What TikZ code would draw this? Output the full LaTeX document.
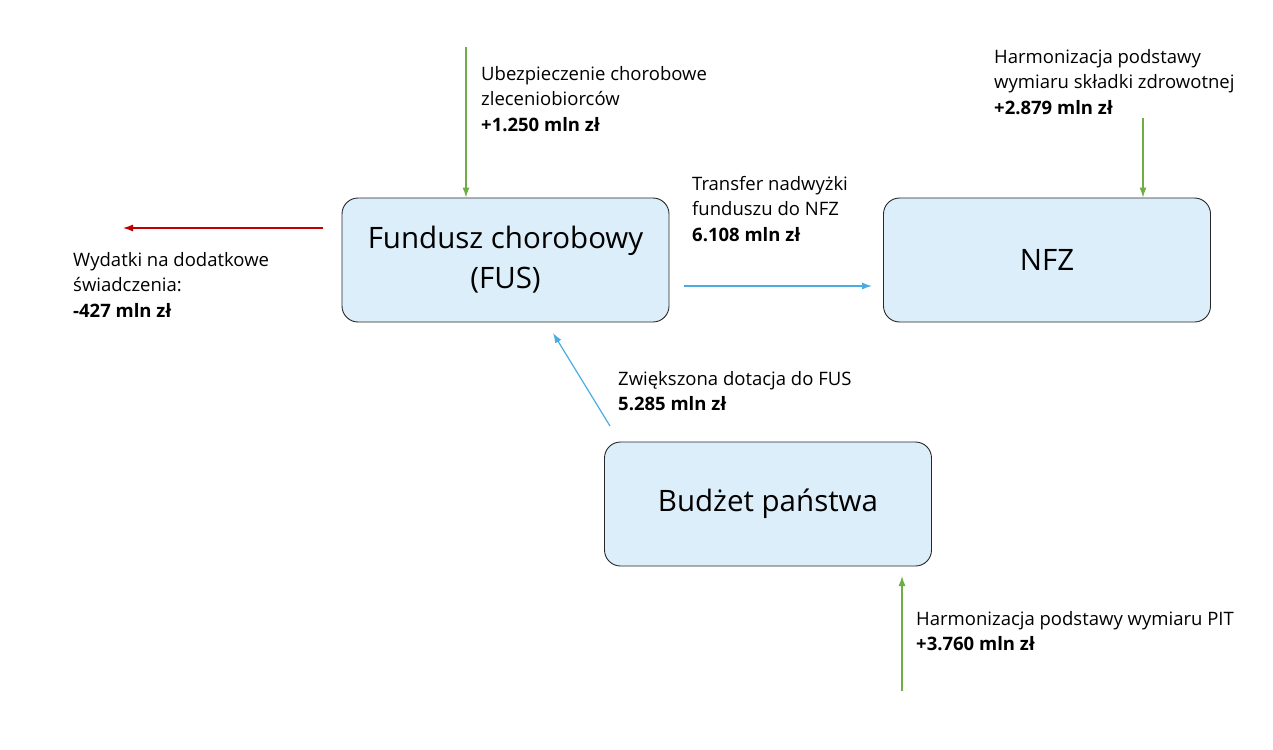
\documentclass[tikz,border=0pt]{standalone}
\usepackage{fontspec}
\setmainfont{Open Sans}
\newfontfamily\lblfont{Open Sans}
\usetikzlibrary{arrows.meta}
\definecolor{boxfill}{RGB}{220,238,250}
\definecolor{boxline}{RGB}{40,40,40}
\definecolor{agreen}{RGB}{112,173,71}
\definecolor{ared}{RGB}{192,0,0}
\definecolor{ablue}{RGB}{74,172,226}
\tikzset{
  fbox/.style={draw=boxline,fill=boxfill,rounded corners=16pt,line width=0.9pt,minimum width=327pt,minimum height=124pt,align=center,font=\fontsize{29.5}{40}\selectfont,inner sep=0pt},
  lbl/.style={anchor=north west,align=left,inner sep=0pt,font=\lblfont\fontsize{18.5}{25.5}\selectfont},
  arr/.style={line width=1.2pt,-{Latex[length=10pt,width=7pt]}}
}
\begin{document}
\begin{tikzpicture}[x=1pt,y=-1pt]
\useasboundingbox (0,0) rectangle (1273,749);
\node[fbox] (fus) at (505.5,260) {Fundusz chorobowy\\(FUS)};
\node[fbox] (nfz) at (1047,260) {NFZ};
\node[fbox] (bud) at (768,504) {Budżet państwa};
\coordinate (g1s) at (466,47);
\coordinate (g2s) at (1143,118);
\coordinate (g3s) at (902,691);
\coordinate (g3e) at (902,576);
\coordinate (rs) at (323,228);
\coordinate (re) at (123,228);
\coordinate (bs) at (684,286);
\coordinate (be) at (872,286);
\coordinate (cs) at (610,426);
\coordinate (ce) at (553,333);
\draw[arr,agreen] (g1s) -- (g1s |- fus.north);
\draw[arr,agreen] (g2s) -- (g2s |- nfz.north);
\draw[arr,agreen] (g3s) -- (g3e);
\draw[arr,ared] (rs) -- (re);
\draw[arr,ablue] (bs) -- (be);
\draw[arr,ablue] (cs) -- (ce);
\node[lbl] (l1) at (481,66) {Ubezpieczenie chorobowe\\zleceniobiorców\\\textbf{+1.250 mln zł}};
\node[lbl] (l2) at (73,252) {Wydatki na dodatkowe\\świadczenia:\\\textbf{-427 mln zł}};
\node[lbl] (l3) at (692,176) {Transfer nadwyżki\\funduszu do NFZ\\\textbf{6.108 mln zł}};
\node[lbl] (l4) at (994,49) {Harmonizacja podstawy\\wymiaru składki zdrowotnej\\\textbf{+2.879 mln zł}};
\node[lbl] (l5) at (618,371) {Zwiększona dotacja do FUS\\\textbf{5.285 mln zł}};
\node[lbl] (l6) at (916,611) {Harmonizacja podstawy wymiaru PIT\\\textbf{+3.760 mln zł}};
\end{tikzpicture}
\end{document}
